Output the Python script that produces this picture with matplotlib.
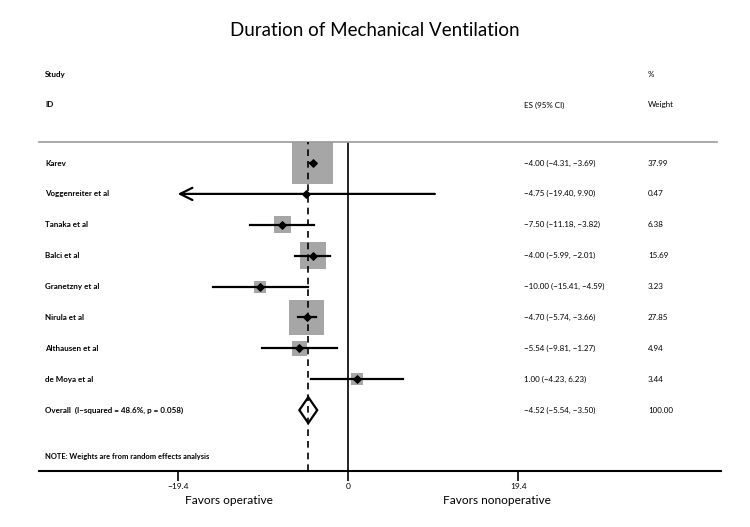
import numpy as np
import matplotlib
matplotlib.use("Agg")
import matplotlib.pyplot as plt
from matplotlib.patches import Polygon

plt.rcParams["font.family"] = ["Lato", "DejaVu Sans"]

studies = ["Karev", "Voggenreiter et al", "Tanaka et al", "Balci et al",
           "Granetzny et al", "Nirula et al", "Althausen et al", "de Moya et al"]
es = [-4.00, -4.75, -7.50, -4.00, -10.00, -4.70, -5.54, 1.00]
lo = [-4.31, -19.40, -11.18, -5.99, -15.41, -5.74, -9.81, -4.23]
hi = [-3.69, 9.90, -3.82, -2.01, -4.59, -3.66, -1.27, 6.23]
weights = [37.99, 0.47, 6.38, 15.69, 3.23, 27.85, 4.94, 3.44]
overall = (-4.52, -5.54, -3.50)
overall_label = "Overall  (I\u2212squared = 48.6%, p = 0.058)"
ticks = [-19.4, 0, 19.4]
tick_labels = ["\u221219.4", "0", "19.4"]
clip_lo = -19.4


def fmt(v):
    return f"{v:.2f}".replace("-", "\u2212")


fig = plt.figure(figsize=(7.5, 5.27), dpi=100)
W, H = 750, 527
ax = fig.add_axes([39 / W, (H - 471) / H, 682 / W, 329 / H])
ax.set_xlim(-35.2, 42.5)
ax.set_ylim(9.97, -0.68)

n = len(studies)
rows = np.arange(n)

# boxes sized by weight
ax.scatter(es, rows, s=np.array(weights) * 23, marker="s", color="#a6a6a6",
           zorder=2, linewidths=0)

for i in range(n):
    if lo[i] <= clip_lo:
        ax.annotate("", xy=(clip_lo, i), xytext=(hi[i], i),
                    arrowprops=dict(arrowstyle="->", lw=1.6, color="black",
                                    mutation_scale=22, shrinkA=0, shrinkB=0),
                    zorder=3)
    else:
        ax.plot([lo[i], hi[i]], [i, i], color="black", lw=1.6, zorder=3)
ax.scatter(es, rows, marker="D", s=14, color="black", zorder=4)

# reference lines
ax.axvline(0, color="black", lw=1.2, zorder=1)
ax.axvline(overall[0], color="black", lw=1.2, ls=(0, (4, 3)), zorder=5)

# overall diamond
orow = n
dh = 0.42
ax.add_patch(Polygon([(overall[1], orow), (overall[0], orow - dh),
                      (overall[2], orow), (overall[0], orow + dh)],
                     closed=True, facecolor="none", edgecolor="black",
                     lw=1.6, zorder=6))

# text columns
xt = ax.get_yaxis_transform()
fs = 5.8
x_id, x_es, x_w = 0.0088, 0.711, 0.893
for i in range(n):
    ax.text(x_id, i, studies[i], transform=xt, fontsize=fs, va="center",
            fontweight="bold")
    ax.text(x_es, i, f"{fmt(es[i])} ({fmt(lo[i])}, {fmt(hi[i])})",
            transform=xt, fontsize=fs, va="center")
    ax.text(x_w, i, f"{weights[i]:.2f}", transform=xt, fontsize=fs, va="center")
ax.text(x_id, orow, overall_label, transform=xt, fontsize=fs, va="center",
        fontweight="bold")
ax.text(x_es, orow, f"{fmt(overall[0])} ({fmt(overall[1])}, {fmt(overall[2])})",
        transform=xt, fontsize=fs, va="center")
ax.text(x_w, orow, "100.00", transform=xt, fontsize=fs, va="center")
ax.text(x_id, 9.49, "NOTE: Weights are from random effects analysis",
        transform=xt, fontsize=5.4, va="center", fontweight="bold")

# headers
ax.text(x_id, -2.85, "Study", transform=xt, fontsize=fs, va="center",
        fontweight="bold", clip_on=False)
ax.text(x_id, -1.88, "ID", transform=xt, fontsize=fs, va="center",
        fontweight="bold", clip_on=False)
ax.text(x_es, -1.88, "ES (95% CI)", transform=xt, fontsize=fs, va="center",
        clip_on=False)
ax.text(x_w, -2.85, "%", transform=xt, fontsize=fs, va="center", clip_on=False)
ax.text(x_w, -1.88, "Weight", transform=xt, fontsize=fs, va="center",
        clip_on=False)

# axes styling
for side in ["left", "right"]:
    ax.spines[side].set_visible(False)
ax.spines["top"].set_color("#9a9a9a")
ax.spines["top"].set_linewidth(1.2)
ax.spines["top"].set_bounds(-35.2, 42.0)
ax.spines["bottom"].set_linewidth(1.5)
ax.set_yticks([])
ax.set_xticks(ticks)
ax.set_xticklabels(tick_labels, fontsize=6.0)
ax.tick_params(axis="x", length=7, width=1.2, pad=1.5)

xd = ax.get_xaxis_transform()
ax.text(-13.6, -0.09, "Favors operative", transform=xd, fontsize=8.6,
        ha="center", va="center", clip_on=False)
ax.text(17.0, -0.09, "Favors nonoperative", transform=xd, fontsize=8.6,
        ha="center", va="center", clip_on=False)

fig.text(0.5, 1 - 30 / H, "Duration of Mechanical Ventilation", fontsize=13.5,
         ha="center", va="center")

fig.savefig("out.png", dpi=100)
